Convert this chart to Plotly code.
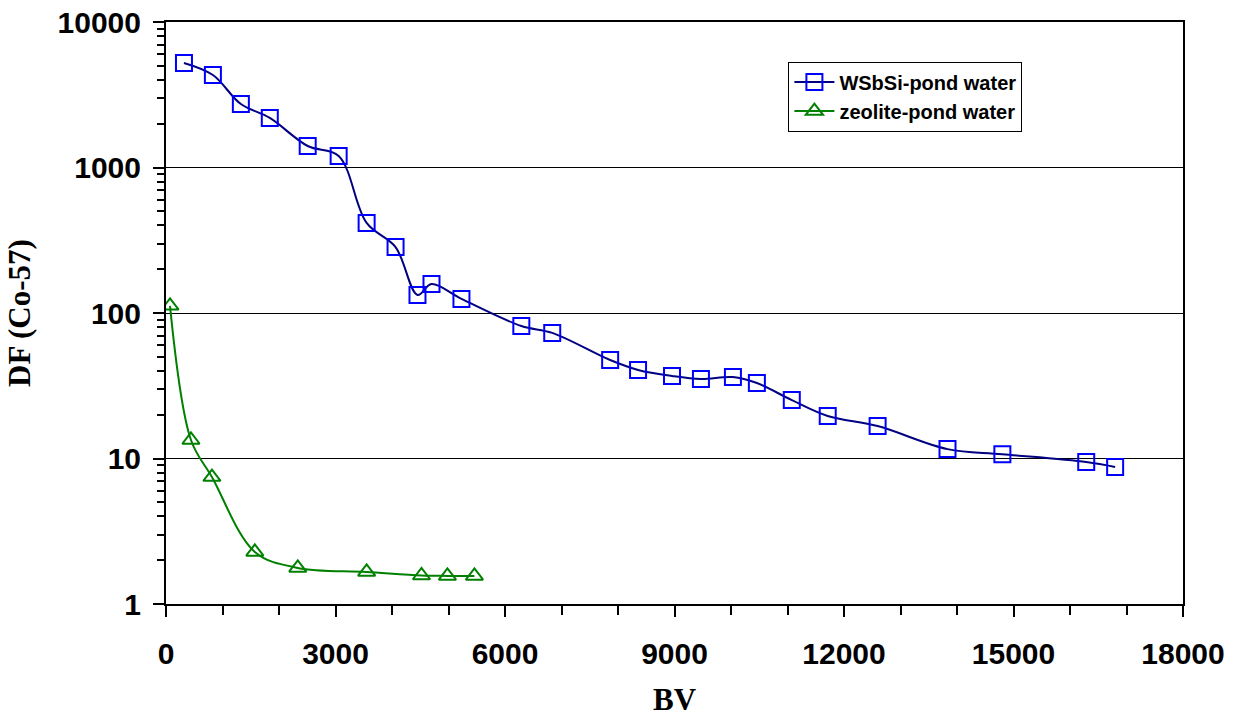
import plotly.graph_objects as go

# WSbSi-pond water
wsbsi_bv = [318, 830, 1325, 1837, 2508, 3056, 3551, 4063, 4451, 4699, 5229,
            6289, 6836, 7861, 8355, 8956, 9468, 10034, 10458, 11076, 11712,
            12595, 13832, 14803, 16287, 16799]
wsbsi_df = [5230, 4320, 2730, 2190, 1405, 1200, 416, 284, 133, 158, 125,
            81.4, 73, 47.5, 40.6, 36.9, 35.2, 36.3, 33, 25.2, 19.6,
            16.7, 11.6, 10.7, 9.46, 8.75]

# zeolite-pond water
zeo_bv = [71, 442, 813, 1572, 2332, 3551, 4522, 4981, 5459]
zeo_df = [112, 13.4, 7.46, 2.28, 1.77, 1.66, 1.57, 1.56, 1.56]

x_ticks = [0, 3000, 6000, 9000, 12000, 15000, 18000]
y_ticks = [1, 10, 100, 1000, 10000]

fig = go.Figure()
fig.add_trace(go.Scatter(
    x=wsbsi_bv, y=wsbsi_df, name="WSbSi-pond water", mode="lines+markers",
    line=dict(color="#000080", width=2, shape="spline", smoothing=1),
    marker=dict(symbol="square-open", size=16, color="#0000FF",
                line=dict(color="#0000FF", width=2)),
))
fig.add_trace(go.Scatter(
    x=zeo_bv, y=zeo_df, name="zeolite-pond water", mode="lines+markers",
    line=dict(color="#008000", width=2, shape="spline", smoothing=1),
    marker=dict(symbol="triangle-up-open", size=15, color="#008000",
                line=dict(color="#008000", width=2)),
))

tickfont = dict(family="Liberation Sans, Arial, sans-serif", size=30, color="black", weight="bold")
titlefont = dict(family="Liberation Serif, Times New Roman, serif", size=31, color="black")

fig.update_layout(
    width=1234, height=717,
    margin=dict(l=166, r=51, t=22, b=113, autoexpand=False),
    paper_bgcolor="white", plot_bgcolor="white",
    font=dict(family="Liberation Sans, Arial, sans-serif", color="black"),
    showlegend=True,
    legend=dict(
        x=0.612, y=0.932, xanchor="left", yanchor="top",
        bordercolor="black", borderwidth=1, bgcolor="white",
        font=dict(family="Liberation Sans, Arial, sans-serif", size=20, color="black", weight="bold"),
        tracegroupgap=0, itemwidth=40,
    ),
    xaxis=dict(
        range=[0, 18000], tickvals=x_ticks, ticktext=[str(v) for v in x_ticks],
        showgrid=False, zeroline=False, automargin=False,
        showline=True, linecolor="black", linewidth=2, mirror=True,
        ticks="outside", ticklen=11, tickwidth=2, tickcolor="black",
        tickfont=tickfont, ticklabelstandoff=11,
        minor=dict(dtick=1000, ticks="outside", ticklen=9, tickwidth=2, tickcolor="black", showgrid=False),
        title=dict(text="<b>BV</b>", font=titlefont, standoff=24),
    ),
    yaxis=dict(
        type="log", range=[0, 4], tickvals=y_ticks, ticktext=[str(v) for v in y_ticks],
        showgrid=True, gridcolor="black", gridwidth=1, zeroline=False, automargin=False,
        showline=True, linecolor="black", linewidth=2, mirror=True,
        ticks="outside", ticklen=11, tickwidth=2, tickcolor="black",
        tickfont=tickfont, ticklabelstandoff=6,
        minor=dict(dtick="D1", ticks="outside", ticklen=7, tickwidth=2, tickcolor="black", showgrid=False),
        title=dict(text="<b>DF (Co-57)</b>", font=titlefont, standoff=18),
    ),
)

fig.write_html("out.html", config={"displayModeBar": False},
               post_script="document.body.style.margin='0';")
